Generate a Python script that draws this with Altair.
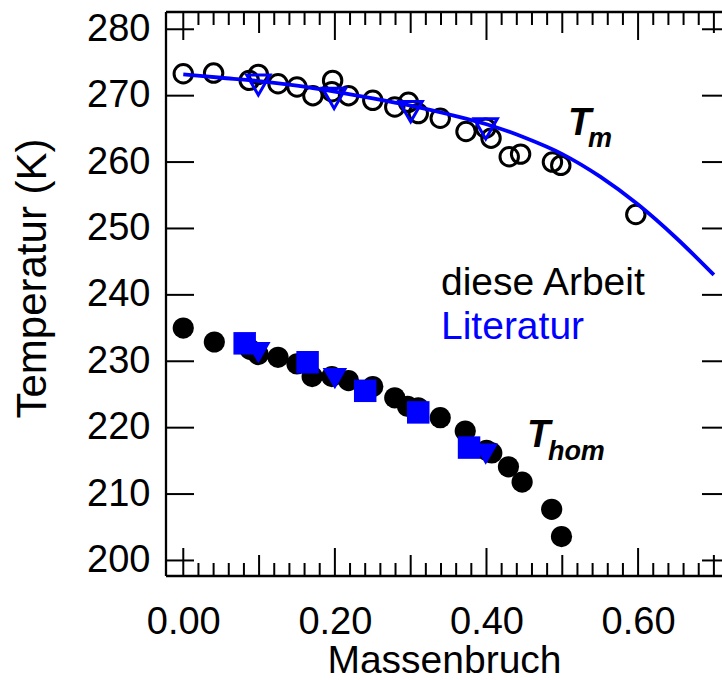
import altair as alt
import pandas as pd

# ---------------- data ----------------
# T_m, this work (open black circles)
tm_x = [0.000, 0.040, 0.087, 0.099, 0.125, 0.150, 0.171, 0.197, 0.196, 0.218, 0.250,
        0.279, 0.297, 0.310, 0.339, 0.373, 0.399, 0.406, 0.430, 0.445, 0.487, 0.498, 0.597]
tm_y = [273.3, 273.4, 272.3, 273.2, 271.8, 271.3, 270.0, 272.3, 270.6, 270.0, 269.3,
        268.3, 269.0, 267.3, 266.6, 264.6, 265.1, 263.6, 260.8, 261.2, 260.0, 259.5, 252.1]

# T_m, literature (open blue triangles)
tm_lit_x = [0.099, 0.199, 0.300, 0.399]
tm_lit_y = [271.6, 269.6, 267.6, 265.0]

# T_m, literature curve (blue line)
curve_x = [0.00, 0.05, 0.10, 0.15, 0.20, 0.25, 0.30, 0.35, 0.40, 0.45, 0.50, 0.55, 0.60, 0.65, 0.70]
curve_y = [273.2, 272.7, 272.2, 271.5, 270.6, 269.6, 268.5, 267.2, 265.7, 263.7, 261.2, 257.8, 253.6, 248.6, 243.0]

# T_hom, this work (filled black circles)
th_x = [0.000, 0.041, 0.088, 0.099, 0.125, 0.150, 0.170, 0.196, 0.218, 0.250, 0.279,
        0.296, 0.310, 0.339, 0.372, 0.400, 0.407, 0.429, 0.447, 0.486, 0.499]
th_y = [235.0, 232.9, 231.8, 231.0, 230.6, 229.6, 227.7, 227.7, 227.1, 226.2, 224.5,
        223.2, 223.0, 221.5, 219.5, 216.6, 216.2, 214.1, 211.8, 207.7, 203.6]

# T_hom, literature (blue squares and blue filled triangles)
sq_x = [0.081, 0.164, 0.240, 0.310, 0.377]
sq_y = [232.7, 229.85, 225.55, 222.3, 217.0]
tri_x = [0.099, 0.200, 0.399]
tri_y = [231.3, 227.4, 216.0]

# tick positions
x_labels = [0.0, 0.2, 0.4, 0.6]
x_ticks = [round(i * 0.02, 2) for i in range(36)]
y_ticks = [200, 210, 220, 230, 240, 250, 260, 270, 280]

# annotations
ann_text = ["diese Arbeit", "Literatur"]
ann_x = [0.340, 0.340]
ann_y = [240.0, 233.3]
ann_color = ["black", "#0000ff"]

big_text = ["T", "T"]
big_x = [0.5075, 0.4534]
big_y = [264.1, 217.1]
sub_text = ["m", "hom"]
sub_x = [0.534, 0.481]
sub_y = [262.3, 215.1]

# ---------------- layout ----------------
W, H = 556, 564
FONT = "Liberation Sans"
BLUE = "#0000ff"
xs = alt.Scale(domain=[-0.0228, 0.7107], nice=False, zero=False)
ys = alt.Scale(domain=[197.66, 282.6], nice=False, zero=False)

XAX = alt.Axis(
    values=x_labels, format=".2f", ticks=False, tickSize=0, domain=False, grid=False,
    labelFont=FONT, labelFontSize=38, labelColor="black", labelPadding=27,
    titleFont=FONT, titleFontSize=39, titleFontWeight="normal",
    titleColor="black", titlePadding=0)
YAX = alt.Axis(
    values=y_ticks, format="d", ticks=False, tickSize=0, domain=False, grid=False,
    labelFont=FONT, labelFontSize=38, labelColor="black", labelPadding=16,
    titleFont=FONT, titleFontSize=42, titleFontWeight="normal",
    titleColor="black", titleAngle=270, titleAlign="center", titleBaseline="alphabetic",
    titleX=-121, titleY=266)
XT = "Massenbruch"
YT = "Temperatur (K)"


def X():
    return alt.X("x:Q", scale=xs, axis=XAX, title=XT)


def Y():
    return alt.Y("y:Q", scale=ys, axis=YAX, title=YT)


tm_df = pd.DataFrame({"x": tm_x, "y": tm_y})
tml_df = pd.DataFrame({"x": tm_lit_x, "y": tm_lit_y})
cur_df = pd.DataFrame({"x": curve_x, "y": curve_y})
th_df = pd.DataFrame({"x": th_x, "y": th_y})
sq_df = pd.DataFrame({"x": sq_x, "y": sq_y})
tri_df = pd.DataFrame({"x": tri_x, "y": tri_y})
ann_df = pd.DataFrame({"t": ann_text, "x": ann_x, "y": ann_y, "c": ann_color})
big_df = pd.DataFrame({"t": big_text, "x": big_x, "y": big_y})
sub_df = pd.DataFrame({"t": sub_text, "x": sub_x, "y": sub_y})

xt = pd.DataFrame({"x": x_ticks,
                   "k": [0 if i % 10 == 0 else (1 if i % 5 == 0 else 2) for i in range(len(x_ticks))]})
yt = pd.DataFrame({"y": y_ticks})

layers = []

# frame: left, top, bottom
frame_src = pd.DataFrame({"d": [0]})
layers.append(alt.Chart(frame_src).mark_rule(color="black", strokeWidth=2.3).encode(
    x=alt.value(0), y=alt.value(0), y2=alt.value(H)))
layers.append(alt.Chart(frame_src).mark_rule(color="black", strokeWidth=2.3).encode(
    x=alt.value(0), x2=alt.value(W), y=alt.value(0)))
layers.append(alt.Chart(frame_src).mark_rule(color="black", strokeWidth=2.3).encode(
    x=alt.value(0), x2=alt.value(W), y=alt.value(H)))

# inward ticks on x (bottom and top)
for k, ln in [(0, 28), (1, 21), (2, 13)]:
    sub = xt[xt.k == k]
    layers.append(alt.Chart(sub).mark_rule(color="black", strokeWidth=2).encode(
        x=X(), y=alt.value(H), y2=alt.value(H - ln)))
    layers.append(alt.Chart(sub).mark_rule(color="black", strokeWidth=2).encode(
        x=X(), y=alt.value(0), y2=alt.value(ln)))

# inward ticks on y (left and right)
layers.append(alt.Chart(yt).mark_rule(color="black", strokeWidth=2).encode(
    y=Y(), x=alt.value(0), x2=alt.value(28)))
layers.append(alt.Chart(yt).mark_rule(color="black", strokeWidth=2).encode(
    y=Y(), x=alt.value(W - 20), x2=alt.value(W)))

# T_m data
layers.append(alt.Chart(tm_df).mark_point(shape="circle", filled=False, color="black",
                                          strokeWidth=3, size=340, opacity=1).encode(x=X(), y=Y()))
layers.append(alt.Chart(cur_df).mark_line(color=BLUE, strokeWidth=3.8, interpolate="monotone").encode(
    x=X(), y=Y()))
layers.append(alt.Chart(tml_df).mark_point(shape="triangle-down", filled=False, color=BLUE,
                                           strokeWidth=3, size=540, opacity=1).encode(x=X(), y=Y()))

# T_hom data
layers.append(alt.Chart(th_df).mark_point(shape="circle", filled=True, color="black",
                                          size=450, opacity=1).encode(x=X(), y=Y()))
layers.append(alt.Chart(sq_df).mark_point(shape="square", filled=True, color=BLUE,
                                          size=506, opacity=1).encode(x=X(), y=Y()))
layers.append(alt.Chart(tri_df).mark_point(shape="triangle-down", filled=True, color=BLUE,
                                           size=600, opacity=1).encode(x=X(), y=Y()))

# annotations
layers.append(alt.Chart(ann_df).mark_text(font=FONT, fontSize=39, align="left",
                                          baseline="alphabetic").encode(
    x=X(), y=Y(), text="t:N", color=alt.Color("c:N", scale=None)))
layers.append(alt.Chart(big_df).mark_text(font=FONT, fontSize=38, fontWeight="bold", fontStyle="italic",
                                          align="left", baseline="alphabetic", color="black").encode(
    x=X(), y=Y(), text="t:N"))
layers.append(alt.Chart(sub_df).mark_text(font=FONT, fontSize=27, fontWeight="bold", fontStyle="italic",
                                          align="left", baseline="alphabetic", color="black").encode(
    x=X(), y=Y(), text="t:N"))

chart = alt.layer(*layers).properties(
    width=W, height=H,
    autosize=alt.AutoSizeParams(type="none"),
    padding={"left": 166, "top": 12, "right": 0, "bottom": 104},
    background="white",
).configure_view(stroke=None)

chart.save("out.html", embed_options={"renderer": "svg", "actions": False})
